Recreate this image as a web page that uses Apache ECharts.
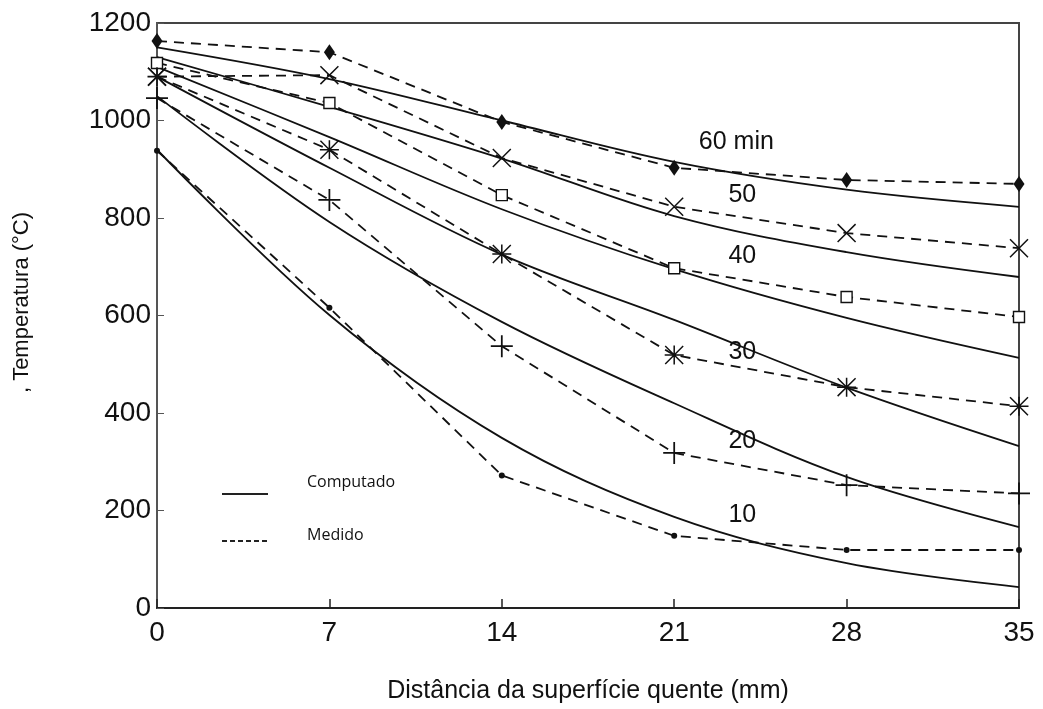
<!DOCTYPE html>
<html>
<head>
<meta charset="utf-8">
<script src="https://cdn.jsdelivr.net/npm/echarts@6/dist/echarts.min.js"></script>
<style>html,body{margin:0;padding:0;background:#fff}#c{width:1043px;height:709px}</style>
</head>
<body>
<div id="c"></div>
<script>
// Distance from hot surface (mm)
const distances = [0, 7, 14, 21, 28, 35];
const timesLabel = ['60 min', '50', '40', '30', '20', '10'];

// Computed (solid) temperatures, °C
const comp60 = [1150, 1085, 1000, 915, 858, 823];
const comp50 = [1130, 1028, 922, 804, 730, 679];
const comp40 = [1110, 966, 818, 695, 595, 513];
const comp30 = [1090, 903, 725, 591, 452, 332];
const comp20 = [1050, 792, 587, 420, 269, 166];
const comp10 = [940, 601, 349, 187, 92, 43];

// Measured (dashed) temperatures, °C
const meas60 = [1163, 1140, 997, 903, 878, 870];
const meas50 = [1090, 1093, 923, 823, 769, 738];
const meas40 = [1118, 1036, 847, 697, 638, 597];
const meas30 = [1090, 940, 726, 519, 453, 414];
const meas20 = [1046, 837, 537, 318, 252, 235];
const meas10 = [938, 616, 272, 148, 119, 119];

// Curve label anchor points (data coords)
const labelX = [22.0, 23.2, 23.2, 23.2, 23.2, 23.2];
const labelY = [956, 847, 722, 525, 342, 191];

const yTicks = [0, 200, 400, 600, 800, 1000, 1200];
const xTitle = 'Distância da superfície quente (mm)';
const yTitle = ', Temperatura (°C)';
const legendNames = ['Computado', 'Medido'];

const INK = '#111';
const FONT = '"Liberation Sans", Arial, sans-serif';
const pair = (arr) => arr.map((v, i) => [distances[i], v]);

const SYM_PLUS = 'path://M9.2,0 h1.6 v20 h-1.6 Z M0,9.2 h20 v1.6 h-20 Z';
const SYM_X = 'path://M0,1.1 L1.1,0 L20,18.9 L18.9,20 Z M18.9,0 L20,1.1 L1.1,20 L0,18.9 Z';
const SYM_AST = 'path://M0,1.1 L1.1,0 L20,18.9 L18.9,20 Z M18.9,0 L20,1.1 L1.1,20 L0,18.9 Z M9.2,0 h1.6 v20 h-1.6 Z M0,9.2 h20 v1.6 h-20 Z';

const computed = [comp60, comp50, comp40, comp30, comp20, comp10];
const measured = [meas60, meas50, meas40, meas30, meas20, meas10];
const markerStyles = [
  { symbol: 'diamond', size: [11, 16], style: { color: INK } },
  { symbol: SYM_X, size: [19, 19], style: { color: INK } },
  { symbol: 'rect', size: [11, 11], style: { color: '#fff', borderColor: INK, borderWidth: 1.4 } },
  { symbol: SYM_AST, size: [19, 19], style: { color: INK } },
  { symbol: SYM_PLUS, size: [22, 22], style: { color: INK } },
  { symbol: 'circle', size: [6, 6], style: { color: INK } }
];

const series = [];
computed.forEach((arr) => {
  series.push({
    type: 'line', data: pair(arr), smooth: 0.35, showSymbol: false, symbol: 'none',
    lineStyle: { color: INK, width: 1.8 }, silent: true, z: 2
  });
});
measured.forEach((arr, i) => {
  const m = markerStyles[i];
  series.push({
    type: 'line', data: pair(arr), smooth: false,
    symbol: m.symbol, symbolSize: m.size, showSymbol: true, itemStyle: m.style,
    lineStyle: { color: INK, width: 1.8, type: [10, 7] }, silent: true, z: 3
  });
});
series.push({
  type: 'scatter', symbolSize: 0, silent: true,
  itemStyle: { opacity: 1 },
  data: timesLabel.map((t, i) => ({ value: [labelX[i], labelY[i]], name: t })),
  label: { show: true, position: 'right', distance: 0, formatter: (p) => p.name,
           fontFamily: FONT, fontSize: 25, color: INK, opacity: 1 }
});

const chart = echarts.init(document.getElementById('c'), null, { renderer: 'canvas' });
chart.setOption({
  animation: false,
  backgroundColor: '#fff',
  grid: { left: 157, right: 24, top: 23, bottom: 101, show: true, borderColor: '#444', borderWidth: 2, backgroundColor: 'transparent' },
  xAxis: {
    type: 'value', min: 0, max: 35, interval: 7,
    axisLine: { show: true, lineStyle: { color: '#222', width: 2 } },
    axisTick: { show: true, inside: true, length: 9, lineStyle: { color: '#222', width: 1.5 } },
    axisLabel: { fontFamily: FONT, fontSize: 28, color: INK, margin: 11 },
    splitLine: { show: false },
    name: xTitle, nameLocation: 'middle', nameGap: 71,
    nameTextStyle: { fontFamily: FONT, fontSize: 25, color: INK }
  },
  yAxis: {
    type: 'value', min: 0, max: 1200, interval: 200,
    axisLine: { show: true, lineStyle: { color: '#555', width: 2 } },
    axisTick: { show: true, inside: true, length: 7, lineStyle: { color: '#555', width: 1 } },
    axisLabel: { fontFamily: FONT, fontSize: 28, color: INK, margin: 6,
                 formatter: (v) => (yTicks.indexOf(v) >= 0 ? String(v) : '') },
    splitLine: { show: false },
    name: yTitle, nameLocation: 'middle', nameGap: 124, nameRotate: 90,
    nameTextStyle: { fontFamily: FONT, fontSize: 22, color: INK, padding: [0, 0, 0, 26] }
  },
  graphic: [
    { type: 'line', shape: { x1: 222, y1: 494, x2: 268, y2: 494 }, style: { stroke: '#222', lineWidth: 2 } },
    { type: 'line', shape: { x1: 222, y1: 541, x2: 268, y2: 541 }, style: { stroke: '#222', lineWidth: 2, lineDash: [5, 3] } },
    { type: 'text', left: 307, top: 474, style: { text: legendNames[0], font: '16px "Open Sans", "Noto Sans", sans-serif', fill: INK } },
    { type: 'text', left: 307, top: 527, style: { text: legendNames[1], font: '16px "Open Sans", "Noto Sans", sans-serif', fill: INK } }
  ],
  series: series
});
</script>
</body>
</html>
